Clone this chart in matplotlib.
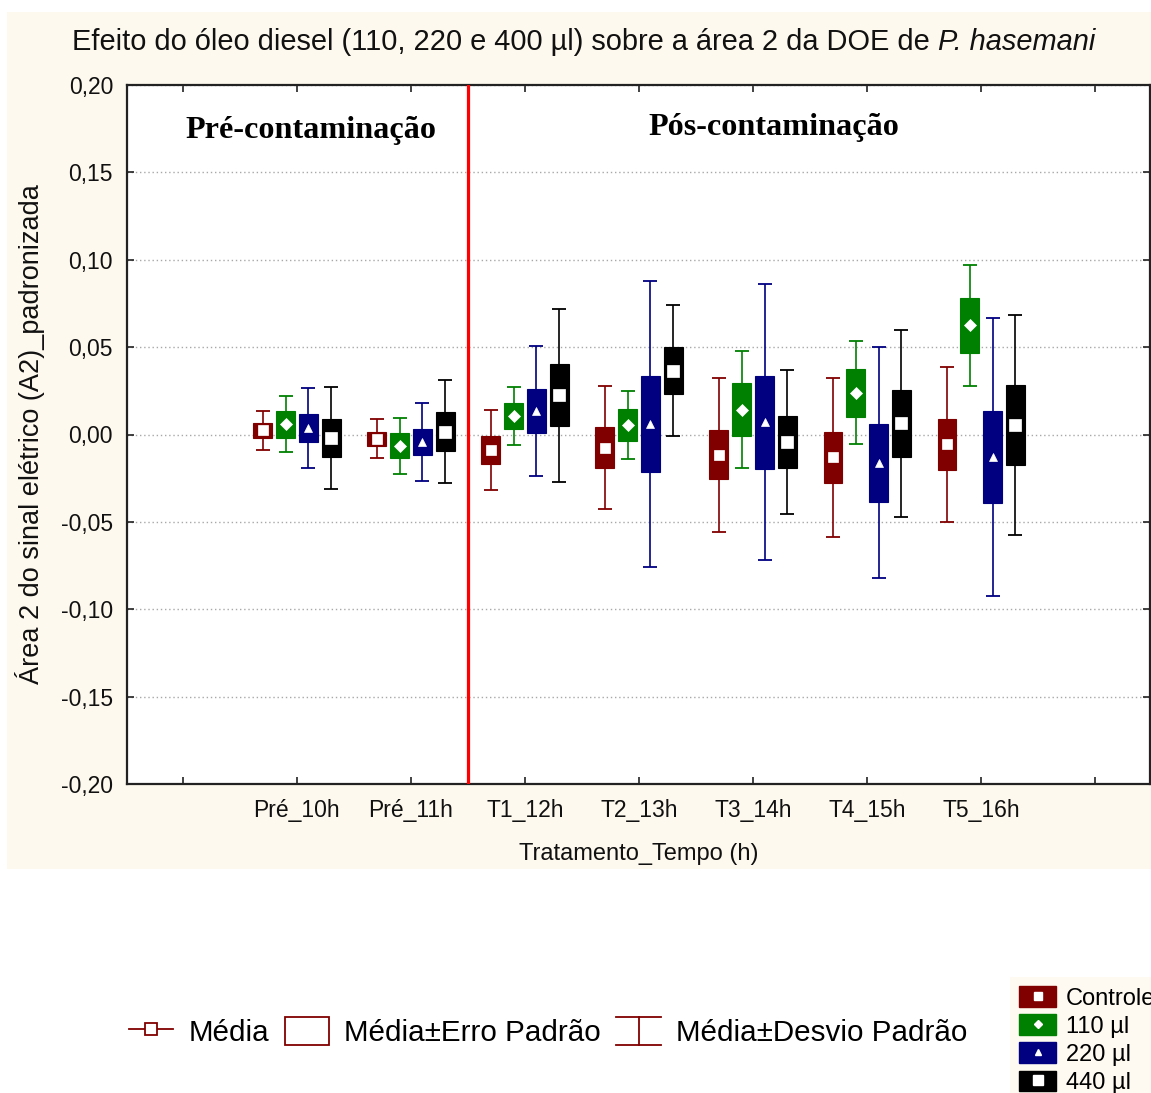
import numpy as np
import matplotlib
matplotlib.use("Agg")
import matplotlib.pyplot as plt
from matplotlib.lines import Line2D
from matplotlib.patches import Patch, Rectangle
from matplotlib.legend_handler import HandlerBase, HandlerTuple
from matplotlib.ticker import FuncFormatter, FixedLocator

plt.rcParams['font.family'] = ['Liberation Sans', 'DejaVu Sans']

# categorias do eixo x (posições 1..7; 0 e 8 ficam vazias)
categorias = ['Pré_10h', 'Pré_11h', 'T1_12h', 'T2_13h', 'T3_14h', 'T4_15h', 'T5_16h']
grupos = ['Controle', '110 µl', '220 µl', '440 µl']

# média, erro padrão e desvio padrão de cada grupo
media_controle = [0.0023, -0.0024, -0.0088, -0.0075, -0.0116, -0.0130, -0.0057]
ep_controle = [0.0041, 0.0039, 0.0078, 0.0119, 0.0141, 0.0145, 0.0145]
dp_controle = [0.0109, 0.0110, 0.0230, 0.0354, 0.0442, 0.0455, 0.0446]

media_110 = [0.0059, -0.0065, 0.0104, 0.0054, 0.0143, 0.0239, 0.0624]
ep_110 = [0.0077, 0.0072, 0.0075, 0.0090, 0.0149, 0.0136, 0.0155]
dp_110 = [0.0162, 0.0162, 0.0166, 0.0194, 0.0333, 0.0294, 0.0345]

media_220 = [0.0037, -0.0043, 0.0136, 0.0060, 0.0071, -0.0162, -0.0130]
ep_220 = [0.0081, 0.0077, 0.0127, 0.0275, 0.0266, 0.0223, 0.0264]
dp_220 = [0.0227, 0.0224, 0.0371, 0.0817, 0.0791, 0.0662, 0.0796]

media_440 = [-0.0020, 0.0017, 0.0224, 0.0366, -0.0043, 0.0063, 0.0053]
ep_440 = [0.0107, 0.0109, 0.0178, 0.0137, 0.0151, 0.0193, 0.0229]
dp_440 = [0.0290, 0.0295, 0.0496, 0.0377, 0.0414, 0.0534, 0.0630]

medias = [media_controle, media_110, media_220, media_440]
erros = [ep_controle, ep_110, ep_220, ep_440]
desvios = [dp_controle, dp_110, dp_220, dp_440]

cores = ['#800000', '#008000', '#000080', '#000000']
marcadores = ['s', 'D', '^', 's']
tam_marcador = [7.5, 6.0, 6.0, 9.0]
deslocamentos = [-0.3, -0.1, 0.1, 0.3]

creme = '#fef9ee'

fig = plt.figure(figsize=(11.51, 10.93), dpi=100, facecolor='white')
# fundo creme atrás do gráfico
fig.add_artist(Rectangle((7 / 1151, 1 - 869 / 1093), 1, 857 / 1093,
                         transform=fig.transFigure, facecolor=creme,
                         edgecolor='none', zorder=-10))

ax = fig.add_axes([127 / 1151, 1 - 784 / 1093, 1023 / 1151, 699 / 1093])
ax.set_facecolor('white')

x_base = np.arange(1, len(categorias) + 1)
for i in range(4):
    x = x_base + deslocamentos[i]
    m = np.array(medias[i])
    ep = np.array(erros[i])
    dp = np.array(desvios[i])
    ax.errorbar(x, m, yerr=dp, fmt='none', ecolor=cores[i], elinewidth=1.2,
                capsize=5, capthick=1.3, zorder=2)
    ax.bar(x, 2 * ep, bottom=m - ep, width=0.165, color=cores[i],
           edgecolor=cores[i], linewidth=0.8, zorder=3)
    ax.plot(x, m, ls='none', marker=marcadores[i], ms=tam_marcador[i],
            mfc='white', mec='white', mew=0.5, zorder=4)

# separação entre pré e pós contaminação
ax.axvline(2.5, color='#ff0000', lw=2.3, zorder=5)

ax.text(1.12, 0.1737, 'Pré-contaminação', ha='center', va='center',
        fontsize=23.2, fontweight='bold', family='Liberation Serif')
ax.text(5.18, 0.1759, 'Pós-contaminação', ha='center', va='center',
        fontsize=23.2, fontweight='bold', family='Liberation Serif')

ax.set_xlim(-0.49, 8.48)
ax.set_ylim(-0.20, 0.20)
ax.xaxis.set_major_locator(FixedLocator(np.arange(0, 9)))
ax.set_xticklabels([''] + categorias + [''])
ax.set_yticks(np.linspace(-0.2, 0.2, 9))
ax.yaxis.set_major_formatter(FuncFormatter(
    lambda v, p: f"{round(v, 2) + 0.0:.2f}".replace('.', ',')))

ax.tick_params(axis='both', direction='in', length=5, width=1.2,
               top=True, right=True, labelsize=16.5, colors='#222222',
               labelcolor='#111111')
ax.tick_params(axis='x', pad=11)
ax.tick_params(axis='y', pad=10)

ax.yaxis.grid(True, color='#a8a8a8', linestyle=(0, (1, 2)), lw=1)
ax.set_axisbelow(True)
for s in ax.spines.values():
    s.set_linewidth(1.6)
    s.set_color('#222222')

ax.set_xlabel('Tratamento_Tempo (h)', fontsize=17, color='#111111')
ax.xaxis.set_label_coords(0.5, -0.084)
ax.set_ylabel('Área 2 do sinal elétrico (A2)_padronizada', fontsize=19.5,
              color='#111111')
ax.yaxis.set_label_coords(-0.080, 0.5)

# título: parte normal + nome da espécie em itálico logo em seguida
titulo = fig.text(72 / 1151, 1 - 42 / 1093,
                  'Efeito do óleo diesel (110, 220 e 400 µl) sobre a área 2 da DOE de ',
                  ha='left', va='center', fontsize=20.9, color='#111111')
fig.canvas.draw()
caixa = titulo.get_window_extent()
fig.text(caixa.x1 / fig.bbox.width, caixa.y0 / fig.bbox.height, 'P. hasemani',
         style='italic', fontsize=20.9, color='#111111', ha='left', va='bottom')


class HandlerBarraI(HandlerBase):
    # desenha o símbolo em forma de "I" (média ± desvio padrão)
    def create_artists(self, legend, orig_handle, xdescent, ydescent,
                       width, height, fontsize, trans):
        x0, x1 = -xdescent, -xdescent + width
        xm = (x0 + x1) / 2
        y0, y1 = -ydescent, -ydescent + height
        linhas = [Line2D([x0, x1], [y0, y0]), Line2D([x0, x1], [y1, y1]),
                  Line2D([xm, xm], [y0, y1])]
        for ln in linhas:
            ln.set_color(orig_handle.get_color())
            ln.set_linewidth(orig_handle.get_linewidth())
            ln.set_transform(trans)
        return linhas


vermelho = '#800000'
h_media = Line2D([], [], color=vermelho, lw=1.3, marker='s', ms=8,
                 mfc='white', mec=vermelho, mew=1.3)
h_erro = Patch(facecolor='white', edgecolor=vermelho, linewidth=1.3)
h_desvio = Line2D([], [], color=vermelho, lw=1.3)
fig.legend([h_media, h_erro, h_desvio],
           ['Média', 'Média±Erro Padrão', 'Média±Desvio Padrão'],
           handler_map={h_desvio: HandlerBarraI()}, ncol=3, frameon=False,
           loc='center left', bbox_to_anchor=(114 / 1151, 1 - 1032 / 1093),
           fontsize=21.3, handlelength=1.5, handleheight=1.1,
           handletextpad=0.52, columnspacing=0.52, borderpad=0)

handles_grupos = []
for i in range(4):
    handles_grupos.append((Patch(facecolor=cores[i], edgecolor=cores[i]),
                           Line2D([], [], ls='none', marker=marcadores[i],
                                  ms=tam_marcador[i] * 0.75, mfc='white',
                                  mec='white')))
leg = fig.legend(handles_grupos, grupos,
                 handler_map={tuple: HandlerTuple(ndivide=1)},
                 loc='upper left', bbox_to_anchor=(1010 / 1151, 1 - 977 / 1093),
                 fontsize=17, handlelength=1.55, handleheight=0.95,
                 handletextpad=0.43, labelspacing=0.2, borderpad=0.4,
                 borderaxespad=0, frameon=True, fancybox=False)
leg.get_frame().set_facecolor(creme)
leg.get_frame().set_edgecolor('none')

fig.savefig('out.png', dpi=100, facecolor=fig.get_facecolor())
